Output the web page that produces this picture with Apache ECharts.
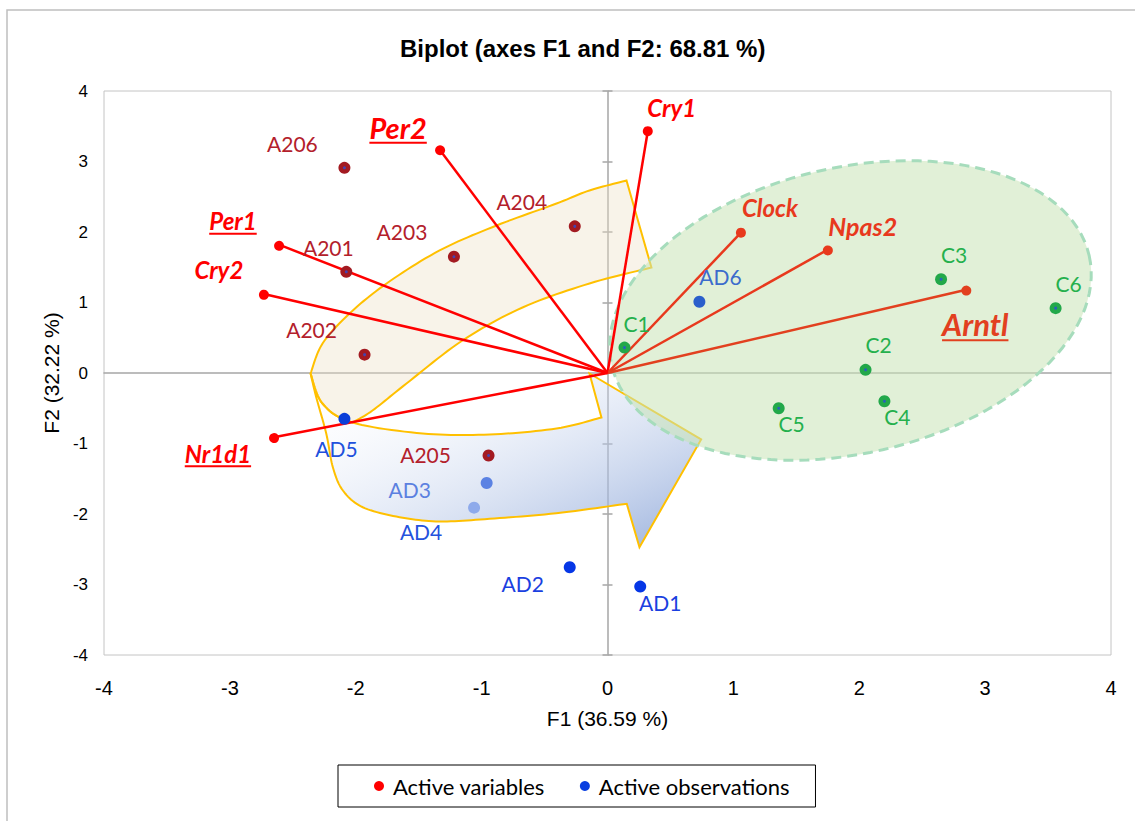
<!DOCTYPE html>
<html>
<head>
<meta charset="utf-8">
<title>Biplot (axes F1 and F2: 68.81 %)</title>
<script src="https://cdn.jsdelivr.net/npm/echarts@6/dist/echarts.min.js"></script>
<style>
  html, body { margin: 0; padding: 0; background: #ffffff; }
  #chart { width: 1135px; height: 821px; }
</style>
</head>
<body>
<div id="chart"></div>
<script>
// ---- Active variables (loadings on F1 / F2) ----
const variableNames = ['Cry1', 'Clock', 'Npas2', 'Arntl', 'Per2', 'Per1', 'Cry2', 'Nr1d1'];
const variableF1 = [0.32, 1.06, 1.75, 2.85, -1.33, -2.61, -2.73, -2.65];
const variableF2 = [3.43, 1.99, 1.75, 1.18, 3.16, 1.82, 1.12, -0.91];

// ---- Active observations (scores on F1 / F2) ----
const observationNames = ['A201', 'A202', 'A203', 'A204', 'A205', 'A206',
  'AD1', 'AD2', 'AD3', 'AD4', 'AD5', 'AD6',
  'C1', 'C2', 'C3', 'C4', 'C5', 'C6'];
const observationF1 = [-2.075, -1.93, -1.22, -0.26, -0.945, -2.09,
  0.26, -0.30, -0.96, -1.06, -2.09, 0.73,
  0.135, 2.05, 2.65, 2.20, 1.36, 3.56];
const observationF2 = [1.435, 0.26, 1.65, 2.08, -1.17, 2.91,
  -3.03, -2.755, -1.56, -1.91, -0.65, 1.01,
  0.36, 0.045, 1.33, -0.40, -0.50, 0.92];

// ---- Axis ticks and texts ----
const axisTicks = [-4, -3, -2, -1, 0, 1, 2, 3, 4];
const titleText = 'Biplot (axes F1 and F2: 68.81 %)';
const xAxisTitle = 'F1 (36.59 %)';
const yAxisTitle = 'F2 (32.22 %)';
const legendNames = ['Active variables', 'Active observations'];

// ---- Group outlines, in F1/F2 units ----
// Green cluster ellipse: centre and two conjugate half-axes
const clusterEllipse = { center: [1.93, 0.887], u: [1.896, 0.782], v: [0.256, -1.976] };
// Curved arrow: upper band (tail) and lower band (head)
const arrowOuterEdge = [[0.151, 2.73], [-0.143, 2.589], [-0.405, 2.404], [-0.882, 2.092], [-1.334, 1.738],
  [-1.755, 1.27], [-2.049, 0.844], [-2.264, 0.418], [-2.359, -0.007]];
const arrowFoldEdge = [[-2.359, -0.007], [-2.264, -0.433], [-2.025, -0.702], [-1.469, -0.858],
  [-0.937, -0.872], [-0.405, -0.787], [-0.048, -0.631]];
const arrowInnerEdge = [[-2.025, -0.702], [-1.867, -0.532], [-1.597, -0.149], [-1.152, 0.461],
  [-0.675, 0.929], [-0.143, 1.27], [0.349, 1.496]];
const arrowHead = [[-0.143, -0.007], [0.744, -0.943], [0.254, -2.471], [0.153, -1.855]];
const arrowBottomEdge = [[0.153, -1.855], [-0.407, -1.989], [-0.937, -2.068], [-1.334, -2.106],
  [-1.652, -2.045], [-1.944, -1.904], [-2.102, -1.667], [-2.182, -1.336], [-2.234, -0.862],
  [-2.314, -0.343], [-2.359, -0.007]];

// ---- Styles ----
const LABEL_FONT = 'Lato, "Open Sans", sans-serif';
const AXIS_FONT = '"Liberation Sans", Arial, sans-serif';

const variableStyle = {
  Cry1:  { color: '#ff0000', size: 24, dx: 24, dy: -24 },
  Clock: { color: '#e8391d', size: 24, dx: 29, dy: -25 },
  Npas2: { color: '#e8391d', size: 25, dx: 35, dy: -24 },
  Arntl: { color: '#e2401f', size: 31, dx: 9, dy: 34, underline: true },
  Per2:  { color: '#ff0000', size: 29, dx: -42, dy: -23, underline: true },
  Per1:  { color: '#ff0000', size: 24, dx: -46, dy: -24, underline: true },
  Cry2:  { color: '#ff0000', size: 24, dx: -45, dy: -25 },
  Nr1d1: { color: '#ff0000', size: 24, dx: -56, dy: 16, underline: true }
};

const A_STYLE = { marker: '#a31a21', label: '#b3202b', dot: true };
const C_STYLE = { marker: '#22a84a', label: '#25b04d', dot: true };
const observationStyle = {
  A201: Object.assign({ dx: -18, dy: -24 }, A_STYLE),
  A202: Object.assign({ dx: -53, dy: -25 }, A_STYLE),
  A203: Object.assign({ dx: -52, dy: -25 }, A_STYLE),
  A204: Object.assign({ dx: -53, dy: -25 }, A_STYLE),
  A205: Object.assign({ dx: -63, dy: -1 }, A_STYLE),
  A206: Object.assign({ dx: -52, dy: -24 }, A_STYLE),
  AD1: { marker: '#0536e6', label: '#1a40e0', dx: 20, dy: 16 },
  AD2: { marker: '#0536e6', label: '#1a40e0', dx: -47, dy: 16 },
  AD3: { marker: '#5b82e3', label: '#5b80e0', dx: -77, dy: 7 },
  AD4: { marker: '#8eaaeb', label: '#2452dd', dx: -53, dy: 24 },
  AD5: { marker: '#0a3ed8', label: '#2150dc', dx: -8, dy: 30 },
  AD6: { marker: '#2a5fcb', label: '#3b6bcc', dx: 21, dy: -25 },
  C1: Object.assign({ dx: 12, dy: -24 }, C_STYLE),
  C2: Object.assign({ dx: 13, dy: -25 }, C_STYLE),
  C3: Object.assign({ dx: 13, dy: -25 }, C_STYLE),
  C4: Object.assign({ dx: 13, dy: 15 }, C_STYLE),
  C5: Object.assign({ dx: 13, dy: 15 }, C_STYLE),
  C6: Object.assign({ dx: 13, dy: -25 }, C_STYLE)
};

// ---- Helpers ----
const measureCtx = document.createElement('canvas').getContext('2d');
function textWidth(text, font) {
  measureCtx.font = font;
  return measureCtx.measureText(text).width;
}

// Catmull-Rom sampling of pixel points, segments [from, to)
function sampleCurve(pts, from, to, steps) {
  const out = [];
  for (let i = from; i < to; i++) {
    const p0 = pts[Math.max(i - 1, 0)], p1 = pts[i], p2 = pts[i + 1], p3 = pts[Math.min(i + 2, pts.length - 1)];
    for (let s = 0; s < steps; s++) {
      const t = s / steps, t2 = t * t, t3 = t2 * t;
      const f = (a, b, c, d) => 0.5 * ((2 * b) + (-a + c) * t + (2 * a - 5 * b + 4 * c - d) * t2 + (-a + 3 * b - 3 * c + d) * t3);
      out.push([f(p0[0], p1[0], p2[0], p3[0]), f(p0[1], p1[1], p2[1], p3[1])]);
    }
  }
  out.push(pts[to].slice());
  return out;
}

const chart = echarts.init(document.getElementById('chart'), null, { renderer: 'svg' });

const variableData = variableNames.map((n, i) => ({ name: n, value: [variableF1[i], variableF2[i]] }));

const observationData = observationNames.map((n, i) => {
  const s = observationStyle[n];
  return {
    name: n,
    value: [observationF1[i], observationF2[i]],
    itemStyle: { color: s.marker },
    label: { color: s.label, offset: [s.dx, s.dy] }
  };
});

const centreDotData = observationNames
  .map((n, i) => ({ name: n, value: [observationF1[i], observationF2[i]] }))
  .filter(d => observationStyle[d.name].dot);

function renderGroups(params, api) {
  const px = p => api.coord(p);
  // lower band (head)
  const fold = arrowFoldEdge.map(px);
  const bottom = arrowBottomEdge.map(px);
  const head = arrowHead.map(px);
  const lowerPts = sampleCurve(fold, 0, fold.length - 1, 12)
    .concat(head)
    .concat(sampleCurve(bottom, 0, bottom.length - 1, 12));
  // upper band (tail)
  const outer = arrowOuterEdge.map(px);
  const inner = arrowInnerEdge.map(px);
  const upperPts = sampleCurve(outer, 0, outer.length - 1, 12)
    .concat(sampleCurve(fold, 0, 2, 12))
    .concat(sampleCurve(inner, 0, inner.length - 1, 12));
  // ellipse
  const e = clusterEllipse;
  const ellPts = [];
  for (let k = 0; k < 120; k++) {
    const t = (k / 120) * Math.PI * 2;
    ellPts.push(px([
      e.center[0] + e.u[0] * Math.cos(t) + e.v[0] * Math.sin(t),
      e.center[1] + e.u[1] * Math.cos(t) + e.v[1] * Math.sin(t)
    ]));
  }
  return {
    type: 'group',
    children: [
      {
        type: 'polygon', shape: { points: lowerPts },
        style: {
          fill: new echarts.graphic.LinearGradient(0, 0, 1, 1, [
            { offset: 0, color: 'rgba(255,255,255,0)' },
            { offset: 0.4, color: 'rgba(205,217,240,0.35)' },
            { offset: 1, color: 'rgba(135,162,214,0.85)' }
          ]),
          stroke: '#ffc000', lineWidth: 2, lineJoin: 'miter'
        }
      },
      {
        type: 'polygon', shape: { points: upperPts },
        style: { fill: 'rgba(236,224,198,0.38)', stroke: '#ffc000', lineWidth: 2 }
      },
      {
        type: 'polygon', shape: { points: ellPts },
        style: { fill: 'rgba(200,228,182,0.55)', stroke: '#a6dcbc', lineWidth: 3, lineDash: [10, 6] }
      }
    ]
  };
}

function renderVariable(params, api) {
  const name = variableNames[params.dataIndex];
  const st = variableStyle[name];
  const o = api.coord([0, 0]);
  const p = api.coord([api.value(0), api.value(1)]);
  const font = 'italic bold ' + st.size + 'px ' + LABEL_FONT;
  const tx = p[0] + st.dx, ty = p[1] + st.dy;
  const children = [
    { type: 'line', shape: { x1: o[0], y1: o[1], x2: p[0], y2: p[1] }, style: { stroke: st.color, lineWidth: 2.5 } },
    { type: 'circle', shape: { cx: p[0], cy: p[1], r: 5 }, style: { fill: st.color } },
    {
      type: 'text', x: tx, y: ty, z2: 10,
      style: { text: name, fill: st.color, font: font, align: 'center', verticalAlign: 'middle' }
    }
  ];
  if (st.underline) {
    const w = textWidth(name, font);
    children.push({
      type: 'rect', z2: 10,
      shape: { x: tx - w / 2, y: ty + st.size * 0.5, width: w, height: 2 },
      style: { fill: st.color }
    });
  }
  return { type: 'group', children: children };
}

const axisBase = { type: 'value', min: -4, max: 4, interval: 1 };

const option = {
  animation: false,
  backgroundColor: '#ffffff',
  title: {
    text: titleText,
    left: 395, top: 31,
    textStyle: { fontFamily: AXIS_FONT, fontSize: 24, fontWeight: 'bold', color: '#000' }
  },
  graphic: [
    { type: 'rect', shape: { x: 7, y: 10, width: 1140, height: 830 }, style: { fill: 'none', stroke: '#bfbfbf', lineWidth: 1.5 }, silent: true, z: -10 }
  ],
  legend: {
    data: [{ name: legendNames[0], icon: 'circle' }, { name: legendNames[1], icon: 'circle' }],
    left: 338, top: 765,
    itemWidth: 10, itemHeight: 10, itemGap: 35,
    padding: [10, 26, 10, 36],
    borderColor: '#000', borderWidth: 1,
    selectedMode: false,
    textStyle: { fontFamily: LABEL_FONT, fontSize: 22, color: '#000', padding: [0, 0, 0, 4] }
  },
  grid: { left: 104, top: 91, width: 1007, height: 564, show: true, borderColor: '#c4c4c4', borderWidth: 1 },
  xAxis: [
    Object.assign({}, axisBase, {
      position: 'bottom',
      axisLine: { show: false, onZero: false },
      axisTick: { show: false },
      splitLine: { show: false },
      axisLabel: { fontFamily: AXIS_FONT, fontSize: 20, color: '#000', margin: 23, customValues: axisTicks },
      name: xAxisTitle, nameLocation: 'middle', nameGap: 53,
      nameTextStyle: { fontFamily: AXIS_FONT, fontSize: 21, color: '#000' }
    }),
    Object.assign({}, axisBase, {
      axisLine: { show: true, onZero: true, onZeroAxisIndex: 0, lineStyle: { color: '#a6a6a6', width: 1.5 } },
      axisTick: { show: false }, axisLabel: { show: false }, splitLine: { show: false }
    })
  ],
  yAxis: [
    Object.assign({}, axisBase, {
      position: 'left',
      axisLine: { show: false, onZero: false },
      axisTick: { show: false },
      splitLine: { show: false },
      axisLabel: { fontFamily: AXIS_FONT, fontSize: 17, color: '#000', margin: 16, customValues: axisTicks },
      name: yAxisTitle, nameLocation: 'middle', nameGap: 36,
      nameTextStyle: { fontFamily: AXIS_FONT, fontSize: 21, color: '#000' }
    }),
    Object.assign({}, axisBase, {
      position: 'left',
      axisLine: { show: true, onZero: true, onZeroAxisIndex: 0, lineStyle: { color: '#a6a6a6', width: 1.5 } },
      axisTick: { show: true, inside: false, length: 5, lineStyle: { color: '#a6a6a6', width: 1.5 } },
      axisLabel: { show: false }, splitLine: { show: false }
    }),
    Object.assign({}, axisBase, {
      position: 'left',
      axisLine: { show: false, onZero: true, onZeroAxisIndex: 0 },
      axisTick: { show: true, inside: true, length: 5, lineStyle: { color: '#a6a6a6', width: 1.5 } },
      axisLabel: { show: false }, splitLine: { show: false }
    })
  ],
  series: [
    {
      type: 'custom', name: 'groups', silent: true, z: 1,
      xAxisIndex: 0, yAxisIndex: 0,
      data: [[0, 0]],
      renderItem: renderGroups
    },
    {
      type: 'custom', name: legendNames[0], z: 3,
      xAxisIndex: 0, yAxisIndex: 0,
      itemStyle: { color: '#ff0000' },
      encode: { x: 0, y: 1 },
      data: variableData,
      renderItem: renderVariable
    },
    {
      type: 'scatter', name: legendNames[1], z: 4,
      xAxisIndex: 0, yAxisIndex: 0,
      symbol: 'circle', symbolSize: 12,
      itemStyle: { color: '#0a3fe0', opacity: 1 },
      label: {
        show: true, position: 'inside', formatter: '{b}',
        fontFamily: LABEL_FONT, fontSize: 21
      },
      emphasis: { disabled: true },
      data: observationData
    },
    {
      type: 'scatter', name: 'centres', z: 5, silent: true,
      xAxisIndex: 0, yAxisIndex: 0,
      symbol: 'circle', symbolSize: 3,
      itemStyle: { color: '#2a4fd6' },
      data: centreDotData
    }
  ]
};

chart.setOption(option);
</script>
</body>
</html>
